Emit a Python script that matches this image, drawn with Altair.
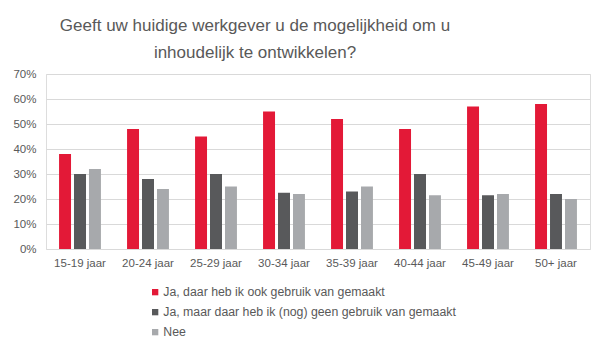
import altair as alt
import pandas as pd

categories = ["15-19 jaar", "20-24 jaar", "25-29 jaar", "30-34 jaar",
              "35-39 jaar", "40-44 jaar", "45-49 jaar", "50+ jaar"]
series = ["Ja, daar heb ik ook gebruik van gemaakt",
          "Ja, maar daar heb ik (nog) geen gebruik van gemaakt",
          "Nee"]
ja_gebruikt = [38, 48, 45, 55, 52, 48, 57, 58]
ja_niet_gebruikt = [30, 28, 30, 22.5, 23, 30, 21.5, 22]
nee = [32, 24, 25, 22, 25, 21.5, 22, 20]
colors = ["#E31937", "#58595B", "#A7A9AC"]

rows = []
for i, c in enumerate(categories):
    for s, vals in zip(series, [ja_gebruikt, ja_niet_gebruikt, nee]):
        rows.append({"cat": c, "serie": s, "val": vals[i] / 100})
df = pd.DataFrame(rows)

font = "Liberation Sans"

chart = alt.Chart(df).mark_bar().encode(
    x=alt.X("cat:N", sort=categories, title=None,
            scale=alt.Scale(paddingInner=0.34, paddingOuter=0.17),
            axis=alt.Axis(labelAngle=0, ticks=False, domain=False, labelPadding=8,
                          labelFontSize=11.5, labelColor="#595959", labelFont=font)),
    xOffset=alt.XOffset("serie:N", sort=series,
                        scale=alt.Scale(paddingInner=0.2, paddingOuter=0.1)),
    y=alt.Y("val:Q", title=None,
            scale=alt.Scale(domain=[0, 0.7], nice=False),
            axis=alt.Axis(format=".0%", values=[0, .1, .2, .3, .4, .5, .6, .7],
                          ticks=False, domain=False, labelPadding=10,
                          labelFontSize=11.5, labelColor="#595959", labelFont=font,
                          gridColor="#D9D9D9", gridWidth=1)),
    color=alt.Color("serie:N", sort=series,
                    scale=alt.Scale(domain=series, range=colors),
                    legend=alt.Legend(title=None, orient="none", direction="vertical",
                                      legendX=103, legendY=212,
                                      symbolType="square", symbolSize=40,
                                      symbolStrokeWidth=0, symbolOffset=0,
                                      labelFontSize=12.3, labelColor="#595959",
                                      labelFont=font, rowPadding=7, labelOffset=2,
                                      labelLimit=0)),
).properties(
    width=544, height=175,
    title=alt.TitleParams(
        text=["Geeft uw huidige werkgever u de mogelijkheid om u",
              "inhoudelijk te ontwikkelen?"],
        font=font, fontSize=17, fontWeight="normal", color="#595959",
        anchor="middle", dx=-63, lineHeight=27, offset=6),
    autosize=alt.AutoSizeParams(type="none"),
    padding={"left": 46, "top": 74, "right": 16, "bottom": 105},
).configure_view(stroke=None).configure(background="white")

chart.save("out.html", embed_options={"renderer": "svg", "actions": False})
